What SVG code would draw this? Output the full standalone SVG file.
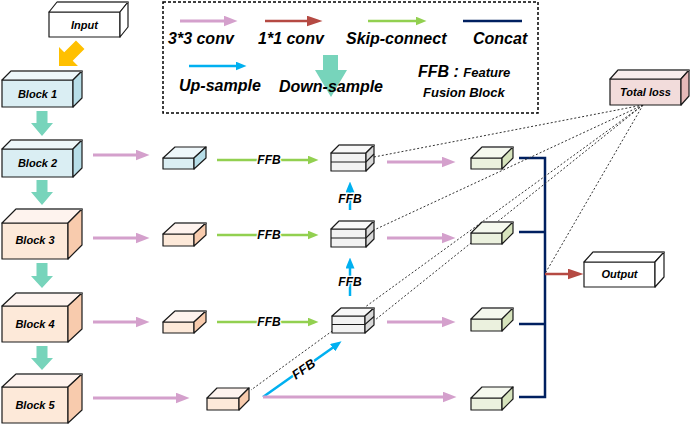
<svg xmlns="http://www.w3.org/2000/svg" width="691" height="425" viewBox="0 0 691 425">
<style>
.b{stroke:#1a1a1a;stroke-width:1.2;stroke-linejoin:round}
.rim{stroke:#6e6e6e;stroke-width:2;fill:none}
.bl .f{fill:#DAEEF3}.bl .t{fill:#EEF7FA}.bl .s{fill:#B7DEE8}
.pe .f{fill:#FDE9D9}.pe .t{fill:#FEF3EE}.pe .s{fill:#F8CBAD}
.gr .f{fill:#F2F2F2}.gr .t{fill:#F8F8F8}.gr .s{fill:#D9D9D9}
.gn .f{fill:#EBF1DE}.gn .t{fill:#F5F8EE}.gn .s{fill:#D7E4BD}
.rd .f{fill:#F2DCDB}.rd .t{fill:#F8EDEC}.rd .s{fill:#E6B9B8}
.wh .f,.wh .t,.wh .s{fill:#ffffff}
.mid{stroke:#1a1a1a;stroke-width:1.2;fill:none}
.lbl{font-family:"Liberation Sans",Arial,sans-serif;font-weight:bold;font-style:italic;font-size:11px;fill:#000;text-anchor:middle}
.leg{font-family:"Liberation Sans",Arial,sans-serif;font-weight:bold;font-style:italic;font-size:16px;fill:#000}
.sm{font-size:13px}
.ffb{font-family:"Liberation Sans",Arial,sans-serif;font-weight:bold;font-style:italic;font-size:12px;fill:#000;text-anchor:middle;stroke:#fff;stroke-width:2.5;paint-order:stroke;stroke-linejoin:round}
.ffbd{font-size:13px}
.pk{stroke:#D4A0CC;stroke-width:3;fill:none}
.gl{stroke:#92D050;stroke-width:2.5;fill:none}
.bu{stroke:#00B0F0;stroke-width:2.5;fill:none}
.rl{stroke:#B54A43;stroke-width:2.5;fill:none}
.nv{stroke:#002060;stroke-width:2.5;fill:none}
.dot{stroke:#333;stroke-width:1;stroke-dasharray:2 2;fill:none}
.down{fill:#77D4BB}
</style>
<defs>
<marker id="mPink" markerUnits="userSpaceOnUse" markerWidth="14" markerHeight="11" viewBox="0 0 14 11" refX="0.5" refY="5.5" orient="auto"><path d="M0,0 L14,5.5 L0,11 z" fill="#D4A0CC"/></marker>
<marker id="mGreen" markerUnits="userSpaceOnUse" markerWidth="11" markerHeight="9" viewBox="0 0 11 9" refX="0.5" refY="4.5" orient="auto"><path d="M0,0 L11,4.5 L0,9 z" fill="#92D050"/></marker>
<marker id="mBlue" markerUnits="userSpaceOnUse" markerWidth="11" markerHeight="9" viewBox="0 0 11 9" refX="0.5" refY="4.5" orient="auto"><path d="M0,0 L11,4.5 L0,9 z" fill="#00B0F0"/></marker>
<marker id="mRed" markerUnits="userSpaceOnUse" markerWidth="16" markerHeight="11" viewBox="0 0 16 11" refX="0.5" refY="5.5" orient="auto"><path d="M0,0 L16,5.5 L0,11 z" fill="#B54A43"/></marker>
</defs>
<rect width="691" height="425" fill="#ffffff"/>

<!-- Legend -->
<g id="legend">
<rect x="163" y="2" width="375" height="111" fill="none" stroke="#000" stroke-width="1.5" stroke-dasharray="3 2"/>
<line class="pk" x1="180" y1="21" x2="224" y2="21" marker-end="url(#mPink)"/>
<line class="rl" x1="265" y1="21" x2="307" y2="21" marker-end="url(#mRed)"/>
<line class="gl" x1="368" y1="21" x2="416" y2="21" marker-end="url(#mGreen)"/>
<line class="nv" x1="463" y1="21" x2="522" y2="21"/>
<line class="bu" x1="189" y1="66" x2="236" y2="66" marker-end="url(#mBlue)"/>
<polygon class="down" points="323,55 338,55 338,70 347,70 331,97 315,70 323,70"/>
<text class="leg" x="168" y="44">3*3 conv</text>
<text class="leg" x="258" y="44">1*1 conv</text>
<text class="leg" x="346" y="44">Skip-connect</text>
<text class="leg" x="473" y="44">Concat</text>
<text class="leg" x="179" y="91">Up-sample</text>
<text class="leg" x="279" y="92">Down-sample</text>
<text class="leg" x="418" y="77">FFB : <tspan class="sm">Feature</tspan></text>
<text class="leg sm" x="423" y="97">Fusion Block</text>
</g>

<!-- Connectors -->
<g id="connectors">
<polygon fill="#FFC000" transform="translate(59,66) rotate(45)" points="0,0 -13.4,-13.4 -6,-13.4 -6,-30 6,-30 6,-13.4 13.4,-13.4"/>
<polygon class="down" points="36.5,111 47.5,111 47.5,123 53,123 42,136 31,123 36.5,123"/>
<polygon class="down" points="36.5,180 47.5,180 47.5,192 53,192 42,205 31,192 36.5,192"/>
<polygon class="down" points="36.5,263 47.5,263 47.5,276 53,276 42,288 31,276 36.5,276"/>
<polygon class="down" points="36.5,346 47.5,346 47.5,358 53,358 42,370 31,358 36.5,358"/>

<line class="pk" x1="93" y1="155" x2="136" y2="155" marker-end="url(#mPink)"/>
<line class="pk" x1="93" y1="238" x2="136" y2="238" marker-end="url(#mPink)"/>
<line class="pk" x1="93" y1="322" x2="136" y2="322" marker-end="url(#mPink)"/>
<line class="pk" x1="93" y1="398" x2="176" y2="398" marker-end="url(#mPink)"/>

<line class="gl" x1="217" y1="160" x2="308" y2="160" marker-end="url(#mGreen)"/>
<line class="gl" x1="217" y1="235" x2="308" y2="235" marker-end="url(#mGreen)"/>
<line class="gl" x1="217" y1="322" x2="308" y2="322" marker-end="url(#mGreen)"/>

<line class="bu" x1="350" y1="210" x2="350" y2="192" marker-end="url(#mBlue)"/>
<line class="bu" x1="350" y1="296" x2="350" y2="268" marker-end="url(#mBlue)"/>
<line class="bu" x1="263" y1="397" x2="333" y2="347.4" marker-end="url(#mBlue)"/>

<line class="pk" x1="387" y1="162" x2="442" y2="162" marker-end="url(#mPink)"/>
<line class="pk" x1="387" y1="238" x2="442" y2="238" marker-end="url(#mPink)"/>
<line class="pk" x1="387" y1="322" x2="442" y2="322" marker-end="url(#mPink)"/>
<line class="pk" x1="263" y1="397" x2="443" y2="397" marker-end="url(#mPink)"/>

<path class="nv" d="M519,158 H545 V397 H519 M519,232 H545 M519,324 H545"/>
<line class="rl" x1="545" y1="274" x2="568" y2="274" marker-end="url(#mRed)"/>

<line class="dot" x1="643" y1="105" x2="374" y2="157"/>
<line class="dot" x1="643" y1="105" x2="374" y2="230"/>
<line class="dot" x1="643" y1="105" x2="375" y2="320"/>
<line class="dot" x1="643" y1="105" x2="251" y2="390"/>
<line class="dot" x1="643" y1="105" x2="546" y2="272"/>

<text class="ffb" x="269" y="164">FFB</text>
<text class="ffb" x="269" y="239">FFB</text>
<text class="ffb" x="269" y="326">FFB</text>
<text class="ffb" x="350" y="203">FFB</text>
<text class="ffb" x="350" y="286">FFB</text>
<text class="ffb ffbd" transform="translate(303.5,369) rotate(-35)" x="0" y="4.5">FFB</text>
</g>

<!-- Nodes -->
<g id="input" class="wh">
<rect class="b f" x="49" y="12" width="71" height="25"/>
<polygon class="b t" points="49,12 57,2 128,2 120,12"/>
<polygon class="b s" points="120,12 128,2 128,27 120,37"/>
<line class="rim" x1="57" y1="2" x2="128" y2="2"/>
<text class="lbl" x="84.5" y="29">Input</text>
</g>

<g id="block1" class="bl">
<rect class="b f" x="2" y="80" width="71" height="27"/>
<polygon class="b t" points="2,80 11,71 82,71 73,80"/>
<polygon class="b s" points="73,80 82,71 82,98 73,107"/>
<line class="rim" x1="11" y1="71" x2="82" y2="71"/>
<text class="lbl" x="37.5" y="98">Block 1</text>
</g>
<g id="block2" class="bl">
<rect class="b f" x="2" y="149" width="71" height="28"/>
<polygon class="b t" points="2,149 11,140 82,140 73,149"/>
<polygon class="b s" points="73,149 82,140 82,168 73,177"/>
<line class="rim" x1="11" y1="140" x2="82" y2="140"/>
<text class="lbl" x="37.5" y="167">Block 2</text>
</g>
<g id="block3" class="pe">
<rect class="b f" x="2" y="223" width="66" height="36"/>
<polygon class="b t" points="2,223 16,209 82,209 68,223"/>
<polygon class="b s" points="68,223 82,209 82,245 68,259"/>
<line class="rim" x1="16" y1="209" x2="82" y2="209"/>
<text class="lbl" x="35" y="244">Block 3</text>
</g>
<g id="block4" class="pe">
<rect class="b f" x="2" y="306" width="66" height="36"/>
<polygon class="b t" points="2,306 16,293 82,293 68,306"/>
<polygon class="b s" points="68,306 82,293 82,329 68,342"/>
<line class="rim" x1="16" y1="293" x2="82" y2="293"/>
<text class="lbl" x="35" y="328">Block 4</text>
</g>
<g id="block5" class="pe">
<rect class="b f" x="2" y="387" width="66" height="36"/>
<polygon class="b t" points="2,387 16,374 82,374 68,387"/>
<polygon class="b s" points="68,387 82,374 82,410 68,423"/>
<line class="rim" x1="16" y1="374" x2="82" y2="374"/>
<text class="lbl" x="35" y="409">Block 5</text>
</g>

<g id="conv2" class="bl">
<rect class="b f" x="163" y="158" width="31" height="11"/>
<polygon class="b t" points="163,158 175,147 206,147 194,158"/>
<polygon class="b s" points="194,158 206,147 206,158 194,169"/>
</g>
<g id="conv3" class="pe">
<rect class="b f" x="163" y="234" width="31" height="12"/>
<polygon class="b t" points="163,234 175,223 206,223 194,234"/>
<polygon class="b s" points="194,234 206,223 206,235 194,246"/>
<line class="rim" x1="175" y1="223" x2="206" y2="223"/>
</g>
<g id="conv4" class="pe">
<rect class="b f" x="163" y="322" width="31" height="11"/>
<polygon class="b t" points="163,322 175,311 206,311 194,322"/>
<polygon class="b s" points="194,322 206,311 206,322 194,333"/>
<line class="rim" x1="175" y1="311" x2="206" y2="311"/>
</g>
<g id="conv5" class="pe">
<rect class="b f" x="207" y="398" width="32" height="12"/>
<polygon class="b t" points="207,398 217,388 249,388 239,398"/>
<polygon class="b s" points="239,398 249,388 249,400 239,410"/>
</g>

<g id="ffb2" class="gr">
<rect class="b f" x="331" y="153" width="35" height="18"/>
<polygon class="b t" points="331,153 339,145 374,145 366,153"/>
<polygon class="b s" points="366,153 374,145 374,163 366,171"/>
<polyline class="mid" points="331,162 366,162 374,154"/>
<line class="rim" x1="339" y1="145" x2="374" y2="145"/>
</g>
<g id="ffb3" class="gr">
<rect class="b f" x="331" y="229" width="35" height="18"/>
<polygon class="b t" points="331,229 339,221 374,221 366,229"/>
<polygon class="b s" points="366,229 374,221 374,239 366,247"/>
<polyline class="mid" points="331,238 366,238 374,230"/>
<line class="rim" x1="339" y1="221" x2="374" y2="221"/>
</g>
<g id="ffb4" class="gr">
<rect class="b f" x="332" y="316" width="33" height="17"/>
<polygon class="b t" points="332,316 341,308 374,308 365,316"/>
<polygon class="b s" points="365,316 374,308 374,325 365,333"/>
<polyline class="mid" points="332,324.5 365,324.5 374,316.5" stroke="#555" stroke-width="1.8"/>
<line class="rim" x1="341" y1="308" x2="374" y2="308"/>
</g>

<g id="out2" class="gn">
<rect class="b f" x="471" y="158" width="31" height="11"/>
<polygon class="b t" points="471,158 482,147 513,147 502,158"/>
<polygon class="b s" points="502,158 513,147 513,158 502,169"/>
<line class="rim" x1="482" y1="147" x2="513" y2="147"/>
</g>
<g id="out3" class="gn">
<rect class="b f" x="471" y="233" width="31" height="11"/>
<polygon class="b t" points="471,233 482,222 513,222 502,233"/>
<polygon class="b s" points="502,233 513,222 513,233 502,244"/>
<line class="rim" x1="482" y1="222" x2="513" y2="222"/>
</g>
<g id="out4" class="gn">
<rect class="b f" x="471" y="319" width="31" height="12"/>
<polygon class="b t" points="471,319 482,308 513,308 502,319"/>
<polygon class="b s" points="502,319 513,308 513,320 502,331"/>
<line class="rim" x1="482" y1="308" x2="513" y2="308"/>
</g>
<g id="out5" class="gn">
<rect class="b f" x="471" y="398" width="31" height="12"/>
<polygon class="b t" points="471,398 482,387 513,387 502,398"/>
<polygon class="b s" points="502,398 513,387 513,399 502,410"/>
</g>

<g id="totalloss" class="rd">
<rect class="b f" x="610" y="79" width="71" height="26"/>
<polygon class="b t" points="610,79 618,70 689,70 681,79"/>
<polygon class="b s" points="681,79 689,70 689,96 681,105"/>
<line class="rim" x1="618" y1="70" x2="689" y2="70"/>
<text class="lbl" x="645.5" y="96">Total loss</text>
</g>
<g id="output" class="wh">
<rect class="b f" x="584" y="262" width="71" height="25"/>
<polygon class="b t" points="584,262 593,252 664,252 655,262"/>
<polygon class="b s" points="655,262 664,252 664,277 655,287"/>
<line class="rim" x1="593" y1="252" x2="664" y2="252"/>
<text class="lbl" x="619.5" y="278">Output</text>
</g>
</svg>
